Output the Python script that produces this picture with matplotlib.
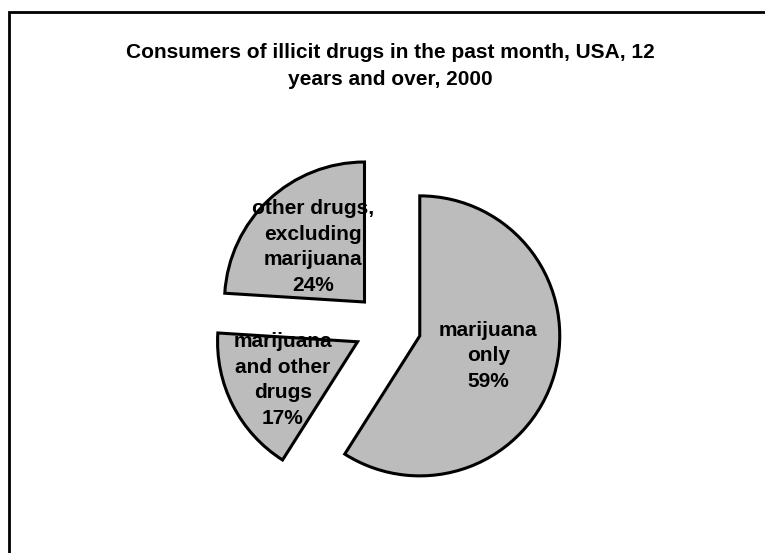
import numpy as np
import matplotlib
matplotlib.use("Agg")
import matplotlib.pyplot as plt
from matplotlib.patches import Rectangle

plt.rcParams['font.family'] = ['Liberation Sans', 'DejaVu Sans']

# data
categories = ['marijuana\nonly', 'marijuana\nand other\ndrugs', 'other drugs,\nexcluding\nmarijuana']
shares = [59, 17, 24]
explode = [0.24, 0.24, 0.24]   # fraction of the radius

title = 'Consumers of illicit drugs in the past month, USA, 12\nyears and over, 2000'

W, H = 765, 553
R = 140
label_dist = [0.51, 0.6, 0.54]

fig = plt.figure(figsize=(W / 100, H / 100), dpi=100)
ax = fig.add_axes([0, 0, 1, 1])

# pie explode is in data units, so scale by the radius
wedges, _ = ax.pie(shares, explode=[e * R for e in explode], startangle=90,
                   counterclock=False, radius=R, center=(387.5, H - 326.5),
                   colors=['#bcbcbc'] * len(shares),
                   wedgeprops=dict(edgecolor='black', linewidth=2.2))

ax.set_xlim(0, W)
ax.set_ylim(0, H)
ax.set_aspect('equal')
ax.axis('off')

# labels inside each slice
for w, cat, val, ld in zip(wedges, categories, shares, label_dist):
    mid = np.deg2rad((w.theta1 + w.theta2) / 2)
    cx, cy = w.center
    d = ld * w.r
    ax.text(cx + d * np.cos(mid), cy + d * np.sin(mid), f'{cat}\n{val}%',
            ha='center', va='center', multialignment='center',
            fontsize=15, fontweight='bold', linespacing=1.45)

# title
fig.text(390 / W, 1 - 66 / H, title, ha='center', va='center',
         fontsize=15, fontweight='bold', linespacing=1.5)

# outer frame (runs off the right and bottom edges)
fig.patches.append(Rectangle((9 / W, -0.05), 1.0, 1 - 12 / H + 0.05,
                             transform=fig.transFigure, fill=False,
                             edgecolor='black', linewidth=2))

fig.savefig('out.png', dpi=100)
